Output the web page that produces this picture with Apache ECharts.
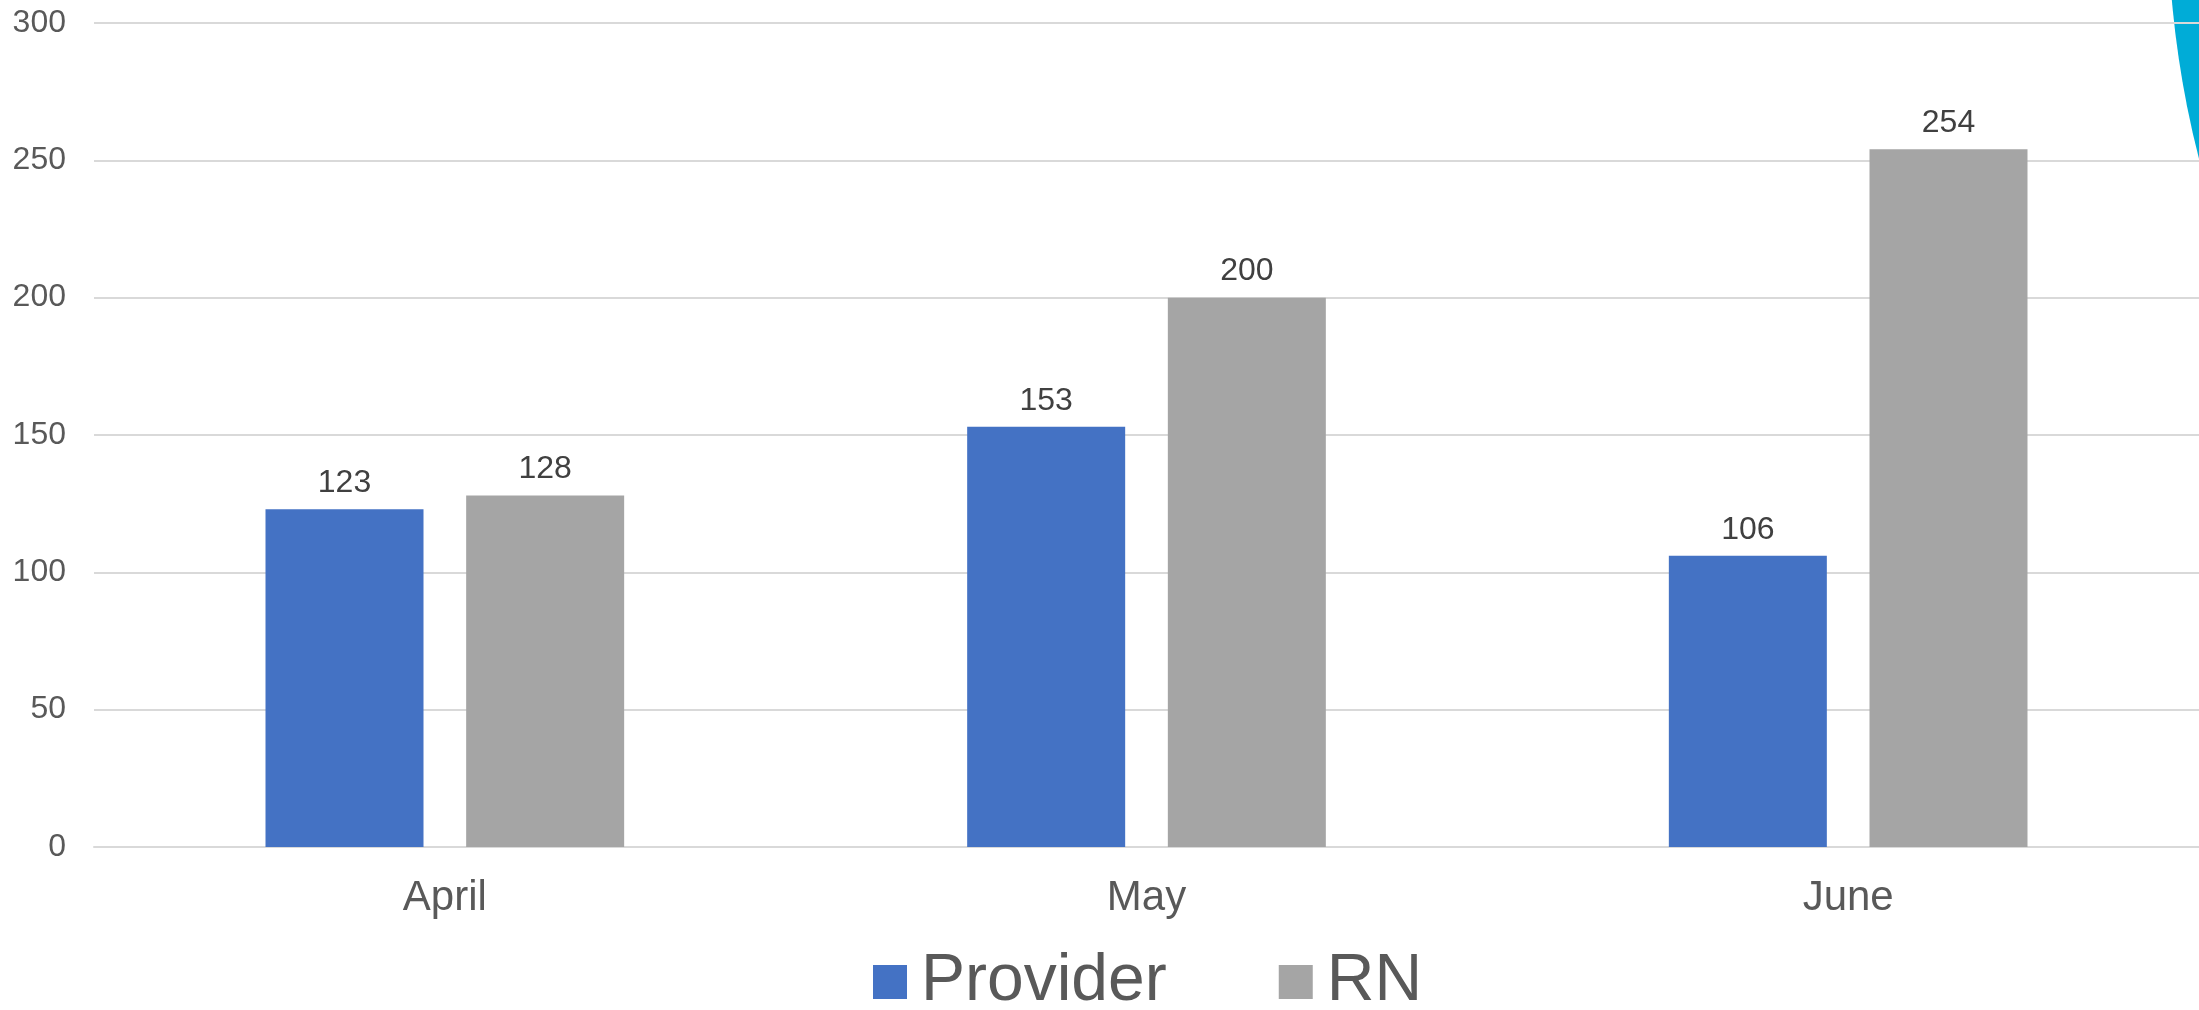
<!DOCTYPE html>
<html>
<head>
<meta charset="utf-8">
<script src="https://cdn.jsdelivr.net/npm/echarts@6/dist/echarts.min.js"></script>
<style>
html,body{margin:0;padding:0;background:#fff;}
#chart{width:2199px;height:1010px;}
</style>
</head>
<body>
<div id="chart"></div>
<script>
const categories = ['April', 'May', 'June'];
const providerValues = [123, 153, 106];
const rnValues = [128, 200, 254];
const seriesNames = ['Provider', 'RN'];
const yTicks = { min: 0, max: 300, interval: 50 };

const chart = echarts.init(document.getElementById('chart'), null, { renderer: 'canvas' });
const font = '"Liberation Sans", Arial, sans-serif';
const valueLabel = {
  show: true, position: 'top', distance: 10,
  color: '#404040', fontSize: 32, fontFamily: font
};
chart.setOption({
  animation: false,
  backgroundColor: '#ffffff',
  graphic: [{
    type: 'circle', z: 0, silent: true,
    shape: { cx: 3158, cy: -87, r: 990 },
    style: { fill: '#00ACD7' }
  }],
  grid: { left: 94, right: 0, top: 23, bottom: 163, containLabel: false, z: 5 },
  legend: {
    data: seriesNames,
    left: 868, top: 944,
    itemWidth: 34, itemHeight: 34, itemGap: 112,
    icon: 'rect',
    textStyle: { fontSize: 66, color: '#595959', fontFamily: font, padding: [0, 0, 0, 9] }
  },
  xAxis: {
    type: 'category', data: categories,
    axisLine: { show: true, lineStyle: { color: '#D9D9D9', width: 2 } },
    axisTick: { show: false },
    axisLabel: { color: '#595959', fontSize: 42, fontFamily: font, margin: 30 },
    z: 5
  },
  yAxis: {
    type: 'value', min: yTicks.min, max: yTicks.max, interval: yTicks.interval,
    axisLine: { show: false }, axisTick: { show: false },
    axisLabel: { color: '#595959', fontSize: 32, fontFamily: font, margin: 28 },
    splitLine: { lineStyle: { color: '#D9D9D9', width: 2 } },
    z: 5
  },
  series: [
    { name: seriesNames[0], type: 'bar', data: providerValues, barWidth: 158, barGap: '27%',
      itemStyle: { color: '#4472C4' }, label: valueLabel, z: 6 },
    { name: seriesNames[1], type: 'bar', data: rnValues, barWidth: 158, barGap: '27%',
      itemStyle: { color: '#A5A5A5' }, label: valueLabel, z: 6 }
  ]
});
</script>
</body>
</html>
